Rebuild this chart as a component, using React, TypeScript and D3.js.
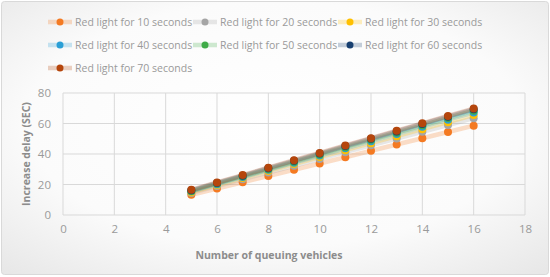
import React, { useEffect, useRef } from 'react';
import * as d3 from 'd3';

// number of queuing vehicles
const vehicles = [5, 6, 7, 8, 9, 10, 11, 12, 13, 14, 15, 16];

const seriesNames = [
  'Red light for 10 seconds',
  'Red light for 20 seconds',
  'Red light for 30 seconds',
  'Red light for 40 seconds',
  'Red light for 50 seconds',
  'Red light for 60 seconds',
  'Red light for 70 seconds',
];

const red10 = [13.2, 17.3, 21.4, 25.6, 29.7, 33.8, 37.9, 42.1, 46.2, 50.3, 54.4, 58.6];
const red20 = [14.5, 19.0, 23.4, 27.9, 32.3, 36.8, 41.2, 45.7, 50.1, 54.6, 59.0, 63.5];
const red30 = [15.0, 19.6, 24.2, 28.8, 33.4, 38.0, 42.5, 47.1, 51.7, 56.3, 60.9, 65.5];
const red40 = [15.5, 20.2, 24.9, 29.6, 34.3, 39.0, 43.7, 48.4, 53.1, 57.8, 62.5, 67.2];
const red50 = [15.8, 20.6, 25.4, 30.1, 34.9, 39.7, 44.5, 49.3, 54.0, 58.8, 63.6, 68.4];
const red60 = [16.2, 21.0, 25.8, 30.7, 35.5, 40.3, 45.2, 50.0, 54.8, 59.7, 64.5, 69.3];
const red70 = [16.5, 21.3, 26.2, 31.0, 35.9, 40.7, 45.6, 50.4, 55.3, 60.1, 65.0, 69.8];

const allValues = [red10, red20, red30, red40, red50, red60, red70];
const colors = ['#f47a22', '#a5a5a5', '#ffc000', '#2a9fd6', '#3fab48', '#173f70', '#b5460c'];

const xTicks = [0, 2, 4, 6, 8, 10, 12, 14, 16, 18];
const yTicks = [0, 20, 40, 60, 80];

function App() {
  const chartRef = useRef<SVGSVGElement>(null);

  useEffect(() => {
    const width = 550;
    const height = 277;
    const margin = { top: 93, right: 25, bottom: 62, left: 63 };

    d3.select(chartRef.current).selectAll('*').remove();
    const svg = d3.select(chartRef.current)
      .attr('width', width)
      .attr('height', height);

    const defs = svg.append('defs');
    const grad = defs.append('radialGradient').attr('id', 'bg')
      .attr('cx', '50%').attr('cy', '45%').attr('r', '75%');
    grad.append('stop').attr('offset', '0%').attr('stop-color', '#ffffff');
    grad.append('stop').attr('offset', '60%').attr('stop-color', '#fbfbfb');
    grad.append('stop').attr('offset', '100%').attr('stop-color', '#e6e6e6');

    svg.append('rect')
      .attr('x', 1.5).attr('y', 1.5)
      .attr('width', width - 3).attr('height', height - 4)
      .attr('rx', 3)
      .attr('fill', 'url(#bg)')
      .attr('stroke', '#d9d9d9');

    const font = 'Open Sans, Noto Sans, sans-serif';
    const textGray = '#9a9a9a';

    const x = d3.scaleLinear().domain([0, 18]).range([margin.left, width - margin.right]);
    const y = d3.scaleLinear().domain([0, 80]).range([height - margin.bottom, margin.top]);

    // gridlines
    svg.append('g').selectAll('line.v').data(xTicks).enter().append('line')
      .attr('x1', d => x(d)).attr('x2', d => x(d))
      .attr('y1', y(0)).attr('y2', y(80))
      .attr('stroke', '#d9d9d9').attr('stroke-width', 1);
    svg.append('g').selectAll('line.h').data(yTicks).enter().append('line')
      .attr('x1', x(0)).attr('x2', x(18))
      .attr('y1', d => y(d)).attr('y2', d => y(d))
      .attr('stroke', '#d9d9d9').attr('stroke-width', 1);

    // tick labels
    const xAxis = svg.append('g')
      .attr('transform', `translate(0,${y(0) + 7})`)
      .call(d3.axisBottom(x).tickValues(xTicks).tickSize(0).tickPadding(3));
    xAxis.select('.domain').remove();
    xAxis.selectAll('text').attr('font-family', font).attr('font-size', 11.5).attr('fill', textGray);

    const yAxis = svg.append('g')
      .attr('transform', `translate(${x(0) - 8},0)`)
      .call(d3.axisLeft(y).tickValues(yTicks).tickSize(0).tickPadding(4));
    yAxis.select('.domain').remove();
    yAxis.selectAll('text').attr('font-family', font).attr('font-size', 11.5).attr('fill', textGray);

    // axis titles
    svg.append('text')
      .attr('x', 269).attr('y', 259)
      .attr('text-anchor', 'middle')
      .attr('font-family', font).attr('font-size', 10.5).attr('font-weight', 'bold')
      .attr('fill', '#8c8c8c')
      .text('Number of queuing vehicles');
    svg.append('text')
      .attr('transform', `translate(30,${(y(0) + y(80)) / 2}) rotate(-90)`)
      .attr('text-anchor', 'middle')
      .attr('font-family', font).attr('font-size', 10.5).attr('font-weight', 'bold')
      .attr('fill', '#8c8c8c')
      .text('Increase delay (SEC)');

    // series
    const line = d3.line<number>()
      .x((_, i) => x(vehicles[i]))
      .y(d => y(d));

    allValues.forEach((vals, s) => {
      svg.append('path')
        .datum(vals)
        .attr('d', line)
        .attr('fill', 'none')
        .attr('stroke', colors[s])
        .attr('stroke-width', 4.5)
        .attr('stroke-opacity', 0.25)
        .attr('stroke-linecap', 'round');
    });
    allValues.forEach((vals, s) => {
      svg.append('g').selectAll('circle').data(vals).enter().append('circle')
        .attr('cx', (_, i) => x(vehicles[i]))
        .attr('cy', d => y(d))
        .attr('r', 4)
        .attr('fill', colors[s]);
    });

    // legend
    const colX = [48, 193, 338];
    const rowY = [22, 45, 68];
    seriesNames.forEach((name, i) => {
      const g = svg.append('g')
        .attr('transform', `translate(${colX[i % 3]},${rowY[Math.floor(i / 3)]})`);
      g.append('line')
        .attr('x1', 0).attr('x2', 24).attr('y1', 0).attr('y2', 0)
        .attr('stroke', colors[i]).attr('stroke-width', 4.5).attr('stroke-opacity', 0.25);
      g.append('circle').attr('cx', 12).attr('cy', 0).attr('r', 3.5).attr('fill', colors[i]);
      g.append('text')
        .attr('x', 27).attr('y', 4)
        .attr('font-family', font).attr('font-size', 10.5)
        .attr('fill', textGray)
        .text(name);
    });
  }, []);

  return (
    <div style={{ position: 'absolute', left: 0, top: 0 }}>
      <svg ref={chartRef}></svg>
    </div>
  );
}

export default App;
